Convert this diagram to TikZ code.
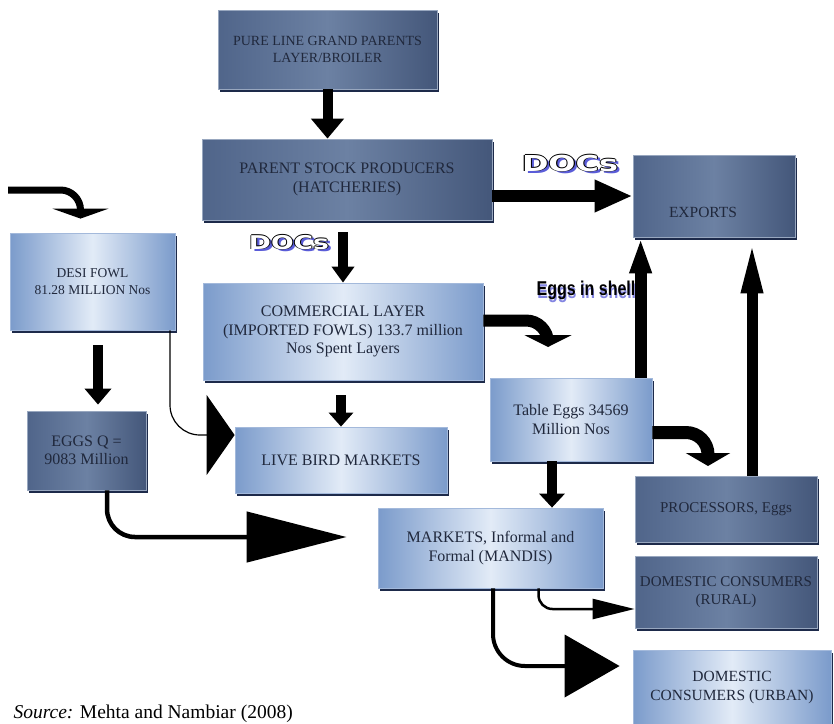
\documentclass[tikz,border=0pt]{standalone}
\usepackage{fontspec}
\setmainfont{Liberation Serif}
\newfontfamily\labelfont{Liberation Sans}
\newfontfamily\docsfamily{DejaVu Sans}
\usepackage{xcolor}
\usepackage{graphicx}
\usepackage{tikz}
\usetikzlibrary{arrows.meta,shadows}

\definecolor{darkfill}{HTML}{50658A}
\definecolor{darkmid}{HTML}{6C81A3}
\definecolor{darkedge}{HTML}{44577A}
\definecolor{lightedge}{HTML}{7B9BCB}
\definecolor{lightmid}{HTML}{E2EBF7}
\definecolor{boxtext}{HTML}{20283C}
\definecolor{boxshadow}{HTML}{1D2A4A}
\definecolor{docblue}{HTML}{5A5CD8}

\newcommand{\hollow}[1]{%
	\makebox[0pt][l]{\hspace{2.2pt}\raisebox{-2.2pt}{\textcolor{docblue}{#1}}}%
	\makebox[0pt][l]{\hspace{-0.7pt}#1}%
	\makebox[0pt][l]{\hspace{0.7pt}#1}%
	\makebox[0pt][l]{\raisebox{0.7pt}{#1}}%
	\makebox[0pt][l]{\raisebox{-0.7pt}{#1}}%
	\textcolor{white}{#1}}
\newcommand{\shadowed}[1]{%
	\makebox[0pt][l]{\hspace{1pt}\raisebox{-3pt}{\textcolor{docblue!75!white}{#1}}}#1}

\begin{document}
\begin{tikzpicture}[x=1pt,y=-1pt,
		flowbox/.style={line width=0.8pt, align=center, text=boxtext, inner sep=2pt,
			font=\fontsize{16}{18.5}\selectfont,
			drop shadow={shadow xshift=1.5pt,shadow yshift=-2.5pt,fill=boxshadow,opacity=1}},
		darkbox/.style={flowbox, draw=darkmid!70!white, left color=darkfill, right color=darkedge, middle color=darkmid},
		lightbox/.style={flowbox, draw=lightedge!70!white, left color=lightedge, right color=lightedge, middle color=lightmid},
		flow/.style={draw=black, line width=#1}]
		\useasboundingbox (0,0) rectangle (834,723);
		\fill[white] (0,0) rectangle (834,723);

		\node[darkbox, minimum width=219pt, minimum height=79pt, font=\fontsize{14}{17}\selectfont] (gp) at (327.5,49.5) {PURE LINE GRAND PARENTS\\LAYER/BROILER};
		\node[darkbox, minimum width=290pt, minimum height=81pt] (ps) at (347,179.5) {PARENT STOCK PRODUCERS\\(HATCHERIES)};
		\node[darkbox, minimum width=162pt, minimum height=82pt] (ex) at (714,196) {};
		\node[text=boxtext, font=\fontsize{15.5}{18}\selectfont] (extext) at (703,212) {EXPORTS};
		\node[lightbox, minimum width=165pt, minimum height=97pt, font=\fontsize{13.5}{17}\selectfont] (desi) at (92.5,281.5) {DESI FOWL\\81.28 MILLION Nos};
		\node[lightbox, minimum width=280pt, minimum height=97pt] (comm) at (343,331.5) {COMMERCIAL LAYER\\(IMPORTED FOWLS) 133.7 million\\Nos Spent Layers};
		\node[darkbox, minimum width=119pt, minimum height=79pt] (eggsq) at (86.5,450.5) {EGGS Q =\\9083 Million};
		\node[lightbox, minimum width=212pt, minimum height=66pt] (live) at (341,460) {LIVE BIRD MARKETS};
		\node[lightbox, minimum width=162pt, minimum height=83pt] (table) at (571,419.5) {Table Eggs 34569\\Million Nos};
		\node[darkbox, minimum width=182pt, minimum height=66pt, font=\fontsize{15}{18}\selectfont] (proc) at (726,509) {PROCESSORS, Eggs};
		\node[lightbox, minimum width=225pt, minimum height=80pt] (markets) at (490.5,548) {MARKETS, Informal and\\Formal (MANDIS)};
		\node[darkbox, minimum width=182pt, minimum height=72pt, font=\fontsize{15}{18}\selectfont] (rural) at (726,592) {DOMESTIC CONSUMERS\\(RURAL)};
		\node[lightbox, minimum width=198pt, minimum height=75pt, font=\fontsize{15.5}{19}\selectfont] (urban) at (732,688) {DOMESTIC\\CONSUMERS (URBAN)};

		\coordinate (dq) at ([xshift=5.5pt]desi.south);
		\coordinate (tm) at ([xshift=-19pt]table.south);
		\coordinate (exl) at ([xshift=8pt]ex.south west);
		\coordinate (exr) at ([xshift=38pt]ex.south);
		\coordinate (tabin) at (548,347);
		\coordinate (procin) at (708,466);
		\coordinate (feedin) at (8,190);

		\draw[flow=10pt, -{Triangle[width=32pt,length=20pt]}] (gp.south) -- (gp.south |- ps.north);
		\draw[flow=12pt, -{Triangle[width=30pt,length=38pt]}] (ps.east |- ex.west) -- (ex.west);
		\draw[flow=10pt, shorten <=12pt, -{Triangle[width=22pt,length=16pt]}] (comm.north |- ps.south) -- (comm.north);
		\draw[flow=10pt, shorten <=15pt, -{Triangle[width=24pt,length=14pt]}] (live.north |- comm.south) -- (live.north);
		\draw[flow=10pt, shorten <=15pt, shorten >=6pt, -{Triangle[width=26pt,length=16pt]}] (dq) -- (dq |- eggsq.north);
		\draw[flow=10pt, -{Triangle[width=25pt,length=14pt]}] (tm) -- (tm |- markets.north);
		\draw[flow=12pt, -{Triangle[width=20pt,length=36pt]}] (exl |- table.north) -- (exl);
		\draw[flow=11pt, -{Triangle[width=19pt,length=56pt]}] (exr |- proc.north) -- (exr);
		\draw[flow=12pt, rounded corners=22pt, -{Triangle[width=47pt,length=12pt]}] ([yshift=11pt]comm.east) -| (tabin);
		\draw[flow=13pt, rounded corners=22pt, -{Triangle[width=44pt,length=13pt]}] ([yshift=-13pt]table.east) -| (procin);
		\draw[flow=7pt, rounded corners=20pt, -{Triangle[width=56pt,length=10pt]}] (feedin) -| ([xshift=-12pt,yshift=14pt]desi.north);
		\draw[flow=1.2pt, rounded corners=30pt, -{Triangle[width=80pt,length=28pt]}] ([xshift=77.5pt]desi.south) |- ([yshift=25pt]live.west);
		\draw[flow=4.5pt, rounded corners=28pt, -{Triangle[width=50pt,length=100pt]}] ([xshift=20.5pt]eggsq.south) |- ([xshift=-31pt,yshift=11pt]markets.west);
		\draw[flow=2.5pt, rounded corners=14pt, -{Triangle[width=20pt,length=42pt]}] ([xshift=48pt]markets.south) |- ([yshift=-17pt]rural.west);
		\draw[flow=4pt, rounded corners=32pt, -{Triangle[width=62pt,length=55pt]}] ([xshift=2.5pt]markets.south) |- ([xshift=-13pt,yshift=22pt]urban.west);

		\node[font=\docsfamily\bfseries\fontsize{22}{24}\selectfont] (docsa) at (570,164) {\scalebox{1.45}[1]{\hollow{DOCs}}};
		\node[font=\docsfamily\bfseries\fontsize{19}{21}\selectfont] (docsb) at (289,243) {\scalebox{1.4}[1]{\hollow{DOCs}}};
		\node[font=\labelfont\bfseries\fontsize{20}{22}\selectfont] (shell) at (586,292) {\scalebox{0.8}[1]{\shadowed{Eggs in shell}}};
		\node[anchor=west, font=\fontsize{19.5}{22}\selectfont] (source) at (10,714) {\textit{Source:} Mehta and Nambiar (2008)};
\end{tikzpicture}
\end{document}
